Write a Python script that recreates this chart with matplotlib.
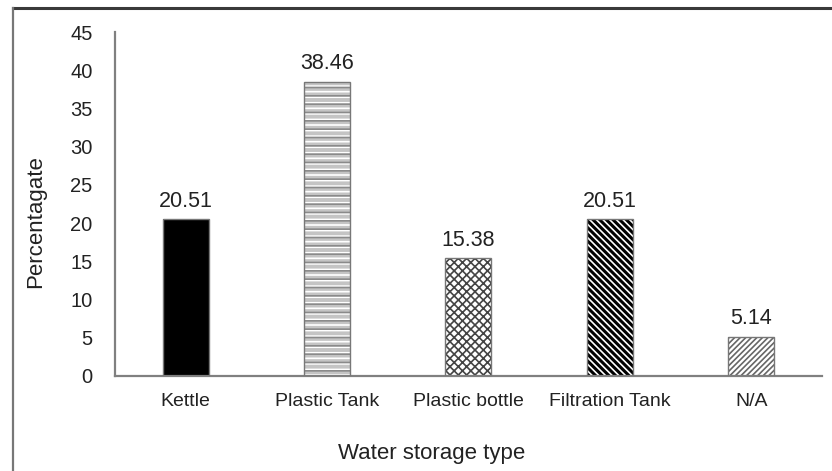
import matplotlib
matplotlib.use("Agg")
import matplotlib.pyplot as plt
from matplotlib.lines import Line2D

plt.rcParams['font.family'] = ['Liberation Sans', 'DejaVu Sans']

categories = ["Kettle", "Plastic Tank", "Plastic bottle", "Filtration Tank", "N/A"]
values = [20.51, 38.46, 15.38, 20.51, 5.14]
yticks = [0, 5, 10, 15, 20, 25, 30, 35, 40, 45]

fig = plt.figure(figsize=(8.32, 4.71), dpi=100)
ax = fig.add_axes([0.138, 0.2017, 0.850, 0.7303])

x = list(range(len(categories)))
w = 0.325

styles = [
    dict(color="black", edgecolor="black", hatch=None, hlw=1.0),
    dict(color="#c4c4c4", edgecolor="white", hatch="---", hlw=1.2),
    dict(color="white", edgecolor="#444444", hatch="xxxx", hlw=1.2),
    dict(color="white", edgecolor="black", hatch="\\\\\\\\\\", hlw=2.2),
    dict(color="white", edgecolor="#666666", hatch="//////", hlw=1.2),
]


def set_hlw(patch, lw):
    if hasattr(patch, "set_hatch_linewidth"):
        patch.set_hatch_linewidth(lw)


for xi, v, st in zip(x, values, styles):
    plt.rcParams['hatch.linewidth'] = st["hlw"]
    bars = ax.bar(xi, v, width=w, color=st["color"], edgecolor=st["edgecolor"],
                  hatch=st["hatch"], linewidth=0, zorder=2)
    for p in bars:
        set_hlw(p, st["hlw"])
    # outline
    ax.bar(xi, v, width=w, fill=False, edgecolor="#777777", linewidth=1.0, zorder=3)
    ax.text(xi, v + 1.0, f"{v:.2f}", ha="center", va="bottom",
            fontsize=15.5, color="#222222")

# extra gray stripes on the plastic tank bar
plt.rcParams['hatch.linewidth'] = 1.2
extra = ax.bar(x[1], values[1], width=w, fill=False, edgecolor="#8a8a8a",
               hatch="--", linewidth=0, zorder=2.5)
for p in extra:
    set_hlw(p, 1.2)

ax.set_xlim(-0.5, 4.5)
ax.set_ylim(0, 45)
ax.set_yticks(yticks)
ax.set_xticks(x)
ax.set_xticklabels(categories, fontsize=14, color="#222222")
ax.tick_params(axis="y", length=0, pad=16, labelsize=14.5, labelcolor="#222222")
ax.tick_params(axis="x", length=0, pad=12)

for s in ("top", "right"):
    ax.spines[s].set_visible(False)
for s in ("left", "bottom"):
    ax.spines[s].set_color("#808080")
    ax.spines[s].set_linewidth(1.6)

fig.text(432 / 832, 1 - 453 / 471, "Water storage type", ha="center", va="center",
         fontsize=16, color="#222222")
fig.text(36 / 832, 1 - 222 / 471, "Percentagate", ha="center", va="center",
         rotation=90, fontsize=16, color="#222222")

# frame around the figure (top and left edges)
fig.add_artist(Line2D([13 / 832, 1.0], [1 - 8 / 471, 1 - 8 / 471],
                      transform=fig.transFigure, color="#3a3a3a", linewidth=2.2))
fig.add_artist(Line2D([13 / 832, 13 / 832], [0, 1 - 8 / 471],
                      transform=fig.transFigure, color="#777777", linewidth=1.6))

fig.savefig("out.png", dpi=100)
